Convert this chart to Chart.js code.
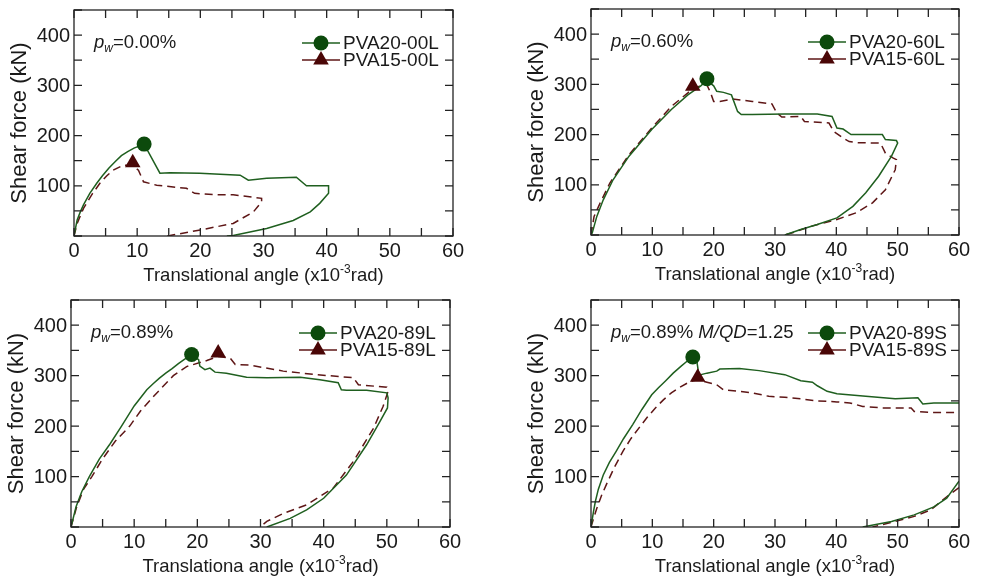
<!DOCTYPE html>
<html>
<head>
<meta charset="utf-8">
<script src="https://cdn.jsdelivr.net/npm/chart.js@4.4.0/dist/chart.umd.min.js"></script>
<style>
  body { margin: 0; background: #fff; width: 983px; height: 577px; position: relative; overflow: hidden; }
  canvas { position: absolute; }
</style>
</head>
<body>
<canvas id="c00" width="490" height="288" style="left:0;top:0"></canvas>
<canvas id="c60" width="493" height="288" style="left:490px;top:0"></canvas>
<canvas id="c89L" width="490" height="289" style="left:0;top:288px"></canvas>
<canvas id="c89S" width="493" height="289" style="left:490px;top:288px"></canvas>
<script>
// tick labels
const xTicks = [0, 10, 20, 30, 40, 50, 60];
const yTicks = [100, 200, 300, 400];
const xMinorStep = 5;
const yMinorStep = 50;

// pw = 0.00 %
const ang20_00L = [0, 0.5, 1, 1.5, 2.5, 3.6, 4.5, 5.5, 6.5, 7.5, 8.5, 9.5, 11.1, 13.6, 15.2, 19.9, 26.3, 27.6, 30.5, 35.2, 36.8, 40.3, 40.3, 38.9, 37.4, 34.7, 30.5, 25.2, 24.2];
const shr20_00L = [0, 32, 48, 62, 85, 105, 120, 135, 148, 160, 168, 175, 183, 125, 126, 125, 121, 111, 115, 117, 100, 100, 85, 65, 48, 31, 15, 1, 0];
const ang15_00L = [0, 0.5, 1.5, 2.8, 4.1, 5.2, 6.2, 7.8, 9.2, 10.2, 11, 13.1, 17.8, 19.1, 22.6, 25.2, 29.7, 29.7, 28.4, 25.2, 20, 15.2, 14.7];
const shr15_00L = [0, 25, 55, 82, 105, 120, 131, 141, 141, 131, 108, 101, 95, 85, 82, 82, 75, 68, 48, 25, 12, 1, 0];
const peak20_00L = [11.1, 183];
const peak15_00L = [9.3, 146];

// pw = 0.60 %
const ang20_60L = [0, 0.2, 0.95, 2, 3.6, 6.2, 9.9, 13.1, 15.8, 17.9, 18.9, 20, 20.5, 21.6, 22.9, 23.9, 24.5, 26.3, 31.6, 36.9, 39.3, 40.1, 41.1, 42.4, 47.5, 48, 49.8, 50, 49, 46.9, 44.8, 42.7, 40.1, 36.9, 34.2, 31.6];
const shr20_60L = [0, 4, 37, 70, 110, 157, 210, 250, 279, 297, 308, 297, 286, 284, 279, 246, 240, 240, 241, 241, 236, 213, 211, 200, 200, 190, 188, 183, 157, 117, 84, 57, 34, 21, 11, 0];
const ang15_60L = [0, 0.5, 1.5, 3.1, 6.2, 9.9, 13.1, 15.8, 16.6, 18.9, 19.5, 20, 21, 23.1, 26.3, 29.5, 30.3, 31.1, 34.2, 34.8, 38.8, 39.6, 41.1, 42.1, 43.2, 47.2, 48, 49.3, 49.8, 49.6, 48, 45.9, 43.2, 40.1, 35.8, 32.7, 31.6];
const shr15_60L = [0, 37, 64, 104, 160, 213, 256, 283, 293, 299, 283, 266, 266, 271, 266, 261, 243, 235, 236, 226, 223, 206, 193, 186, 184, 183, 163, 153, 150, 130, 90, 64, 44, 31, 17, 4, 0];
const peak20_60L = [18.9, 311];
const peak15_60L = [16.6, 296];

// pw = 0.89 %, long
const ang20_89L = [0, 0.8, 1.7, 2.9, 4.5, 6.2, 8, 10, 12, 13, 14, 15, 16, 17, 18, 19.1, 20.2, 20.4, 21.2, 22, 22.8, 24.6, 27.8, 31, 36.3, 39.4, 42.3, 42.8, 43.6, 46.8, 50, 50.2, 50.1, 48.9, 46.8, 43.6, 40, 37.3, 34.7, 31];
const shr20_89L = [0, 40, 70, 100, 135, 165, 200, 240, 272, 284, 295, 305, 314, 324, 333, 340, 332, 319, 312, 315, 307, 305, 297, 296, 297, 292, 286, 272, 271, 271, 266, 256, 236, 209, 163, 103, 57, 34, 17, 0];
const ang15_89L = [0, 0.9, 2, 3.3, 5, 7, 9.3, 11, 13, 16.2, 18.3, 21.5, 23.3, 25.2, 26, 28.3, 33.6, 38.9, 44.7, 45.5, 50, 50.2, 49.4, 47.9, 44.7, 41.5, 37.3, 33.6, 31, 29.9];
const shr15_89L = [0, 40, 75, 100, 135, 170, 200, 230, 258, 300, 318, 330, 338, 335, 322, 321, 309, 302, 296, 282, 277, 269, 239, 196, 130, 77, 44, 27, 11, 0];
const peak20_89L = [19.1, 342];
const peak15_89L = [23.3, 345];

// pw = 0.89 %, M/QD = 1.25 (null = break in the curve)
const ang20_89S = [0, 0.4, 0.7, 1.2, 2, 3, 4.1, 5.3, 6.8, 8.3, 9.9, 11, 12.1, 13.4, 14.7, 15.7, 16.6, 17.3, 17.6, 18.9, 20.5, 21, 24.2, 27.4, 31.6, 34.2, 36.1, 36.9, 38.5, 40.1, 44.8, 49.6, 53.3, 54.1, 55.9, 60, 60, 60, 58, 55.9, 52.7, 49, 44.3];
const shr20_89S = [0, 30, 50, 75, 103, 128, 150, 175, 203, 233, 262, 276, 289, 305, 319, 329, 337, 325, 301, 305, 309, 313, 314, 310, 302, 290, 287, 280, 269, 264, 259, 254, 256, 244, 246, 246, null, 91, 57, 40, 24, 11, 0];
const ang15_89S = [0, 0.5, 0.95, 1.7, 2.5, 3.8, 5.2, 6.5, 7.8, 9.2, 10.5, 11.8, 13.1, 14.5, 15.8, 16.6, 17.4, 18.9, 20.5, 21.6, 24.2, 26.3, 29, 31.6, 34.2, 36.9, 40.1, 42.2, 44.3, 47.5, 52.2, 52.7, 55.4, 60, 60, 60, 58, 55.4, 52.7, 49.6, 45.9];
const shr15_89S = [0, 20, 37, 62, 84, 118, 150, 175, 196, 218, 236, 252, 266, 277, 286, 290, 292, 287, 282, 272, 269, 266, 259, 257, 254, 250, 248, 246, 239, 236, 236, 229, 227, 227, null, 78, 60, 34, 21, 11, 0];
const peak20_89S = [16.6, 337];
const peak15_89S = [17.4, 297];

const FONT = '"Liberation Sans", Arial, sans-serif';
const TXT = '#1a1a1a';
const GREEN = '#1f5f1f', GREEN_MK = '#0c4a0c';
const RED = '#5e1616', RED_MK = '#4a0606';

function pts(xs, ys) {
  return xs.map((x, i) => ({ x: x, y: ys[i] }));
}

function marker(ctx, style, x, y, r, color) {
  ctx.fillStyle = color;
  ctx.beginPath();
  if (style === 'circle') {
    ctx.arc(x, y, r, 0, Math.PI * 2);
  } else {
    ctx.moveTo(x, y - r);
    ctx.lineTo(x + r * 0.866, y + r * 0.5);
    ctx.lineTo(x - r * 0.866, y + r * 0.5);
    ctx.closePath();
  }
  ctx.fill();
}

// draws a run of text pieces: [text, italic, subscript]
function richText(ctx, pieces, x, y, size) {
  pieces.forEach(p => {
    const s = p[2] ? size * 0.65 : size;
    ctx.font = (p[1] ? 'italic ' : '') + s + 'px ' + FONT;
    ctx.fillText(p[0], x, p[2] ? y + 4 : y);
    x += ctx.measureText(p[0]).width;
  });
}

const frame = {
  id: 'frame',
  afterDatasetsDraw(chart, args, opts) {
    const ctx = chart.ctx, a = chart.chartArea;
    const sx = chart.scales.x, sy = chart.scales.y;
    ctx.save();
    ctx.strokeStyle = '#222';
    ctx.lineWidth = 1.3;
    ctx.strokeRect(a.left, a.top, a.right - a.left, a.bottom - a.top);
    ctx.beginPath();
    for (let v = sx.min; v <= sx.max; v += xMinorStep) {
      const p = sx.getPixelForValue(v);
      ctx.moveTo(p, a.bottom); ctx.lineTo(p, a.bottom - 8);
      ctx.moveTo(p, a.top); ctx.lineTo(p, a.top + 8);
    }
    for (let v = sy.min; v <= sy.max; v += yMinorStep) {
      const p = sy.getPixelForValue(v);
      ctx.moveTo(a.left, p); ctx.lineTo(a.left + 8, p);
      ctx.moveTo(a.right, p); ctx.lineTo(a.right - 8, p);
    }
    ctx.stroke();

    // tick labels
    ctx.fillStyle = TXT;
    ctx.font = '20px ' + FONT;
    ctx.textAlign = 'center';
    ctx.textBaseline = 'alphabetic';
    xTicks.forEach(v => ctx.fillText(String(v), sx.getPixelForValue(v), a.bottom + 21));
    ctx.textAlign = 'right';
    ctx.textBaseline = 'middle';
    yTicks.forEach(v => ctx.fillText(String(v), a.left - 4, sy.getPixelForValue(v) + 1));

    // axis titles
    ctx.save();
    ctx.translate(a.left - 54, (a.top + a.bottom) / 2);
    ctx.rotate(-Math.PI / 2);
    ctx.textAlign = 'center';
    ctx.font = '22px ' + FONT;
    ctx.fillText('Shear force (kN)', 0, 0);
    ctx.restore();

    ctx.textAlign = 'left';
    ctx.textBaseline = 'alphabetic';
    ctx.font = '18.5px ' + FONT;
    const w1 = ctx.measureText(opts.xTitle).width;
    const w3 = ctx.measureText('rad)').width;
    ctx.font = '12px ' + FONT;
    const w2 = ctx.measureText('-3').width;
    let x = (a.left + a.right) / 2 - (w1 + w2 + w3) / 2;
    const base = a.bottom + 45;
    ctx.font = '18.5px ' + FONT;
    ctx.fillText(opts.xTitle, x, base);
    ctx.font = '12px ' + FONT;
    ctx.fillText('-3', x + w1, base - 8);
    ctx.font = '18.5px ' + FONT;
    ctx.fillText('rad)', x + w1 + w2, base);

    // reinforcement ratio note
    richText(ctx, opts.note, a.left + 20, a.top + 38, 18.5);

    // legend
    ctx.textBaseline = 'middle';
    ctx.font = '19px ' + FONT;
    opts.legend.forEach((item, i) => {
      const y = a.top + 33 + i * 17;
      ctx.strokeStyle = item.color;
      ctx.lineWidth = 1.5;
      ctx.beginPath();
      ctx.moveTo(a.right - 151, y); ctx.lineTo(a.right - 113, y);
      ctx.stroke();
      marker(ctx, item.style, a.right - 132, y, item.style === 'circle' ? 7.5 : 9, item.mk);
      ctx.fillStyle = TXT;
      ctx.fillText(item.label, a.right - 110, y + 1);
    });
    ctx.restore();
  }
};

function makeChart(id, pad, series, note, xTitle) {
  const [g, r] = series;
  const datasets = [
    { data: [{ x: g.peak[0], y: g.peak[1] }], pointStyle: 'circle', pointRadius: 7.5,
      backgroundColor: GREEN_MK, borderColor: GREEN_MK, borderWidth: 0, showLine: false },
    { data: [{ x: r.peak[0], y: r.peak[1] }], pointStyle: 'triangle', pointRadius: 9,
      backgroundColor: RED_MK, borderColor: RED_MK, borderWidth: 0, showLine: false },
    { data: pts(g.x, g.y), showLine: true, borderColor: GREEN, borderWidth: 1.5, pointRadius: 0, spanGaps: false },
    { data: pts(r.x, r.y), showLine: true, borderColor: RED, borderWidth: 1.5, borderDash: [8, 5], pointRadius: 0, spanGaps: false }
  ];
  new Chart(document.getElementById(id), {
    type: 'scatter',
    data: { datasets: datasets },
    options: {
      responsive: false,
      animation: false,
      events: [],
      layout: { padding: pad },
      plugins: {
        legend: { display: false },
        tooltip: { enabled: false },
        frame: {
          xTitle: xTitle,
          note: note,
          legend: [
            { label: g.label, color: GREEN, mk: GREEN_MK, style: 'circle' },
            { label: r.label, color: RED, mk: RED_MK, style: 'triangle' }
          ]
        }
      },
      scales: {
        x: { type: 'linear', min: 0, max: 60, ticks: { display: false }, grid: { display: false },
             border: { display: false }, afterFit: s => { s.height = 40; } },
        y: { type: 'linear', min: 0, max: 450, ticks: { display: false }, grid: { display: false },
             border: { display: false }, afterFit: s => { s.width = 60; } }
      }
    },
    plugins: [frame]
  });
}

const pw = [['p', true, false], ['w', true, true]];

makeChart('c00', { left: 14, top: 10, right: 37, bottom: 12 }, [
  { label: 'PVA20-00L', x: ang20_00L, y: shr20_00L, peak: peak20_00L },
  { label: 'PVA15-00L', x: ang15_00L, y: shr15_00L, peak: peak15_00L }
], pw.concat([['=0.00%', false, false]]), 'Translational angle (x10');

makeChart('c60', { left: 41, top: 9, right: 24, bottom: 13 }, [
  { label: 'PVA20-60L', x: ang20_60L, y: shr20_60L, peak: peak20_60L },
  { label: 'PVA15-60L', x: ang15_60L, y: shr15_60L, peak: peak15_60L }
], pw.concat([['=0.60%', false, false]]), 'Translational angle (x10');

makeChart('c89L', { left: 11, top: 12, right: 40, bottom: 10 }, [
  { label: 'PVA20-89L', x: ang20_89L, y: shr20_89L, peak: peak20_89L },
  { label: 'PVA15-89L', x: ang15_89L, y: shr15_89L, peak: peak15_89L }
], pw.concat([['=0.89%', false, false]]), 'Translationa angle (x10');

makeChart('c89S', { left: 41, top: 12, right: 24, bottom: 10 }, [
  { label: 'PVA20-89S', x: ang20_89S, y: shr20_89S, peak: peak20_89S },
  { label: 'PVA15-89S', x: ang15_89S, y: shr15_89S, peak: peak15_89S }
], pw.concat([['=0.89% ', false, false], ['M/QD', true, false], ['=1.25', false, false]]), 'Translational angle (x10');
</script>
</body>
</html>
